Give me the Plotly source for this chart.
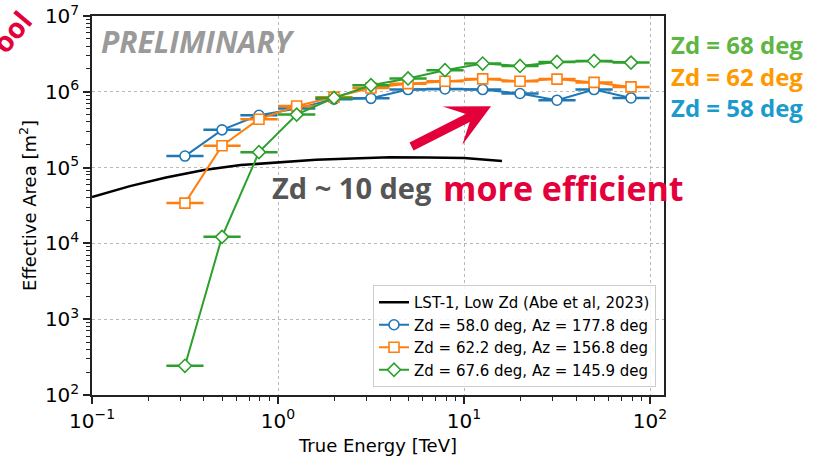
import plotly.graph_objects as go
import numpy as np

# ---------------- data ----------------
lst1_energy = [0.1, 0.16, 0.25, 0.4, 0.63, 1.0, 1.6, 2.5, 4.0, 6.3, 10.0, 16.0]
lst1_area = [4.1e4, 5.7e4, 7.4e4, 9.3e4, 1.08e5, 1.18e5, 1.27e5, 1.32e5, 1.37e5, 1.36e5, 1.34e5, 1.22e5]

energy = [0.316, 0.5, 0.79, 1.26, 2.0, 3.16, 5.0, 7.9, 12.6, 20.0, 31.6, 50.0, 79.0]
area_zd58 = [1.42e5, 3.15e5, 4.9e5, 6.0e5, 8.0e5, 8.2e5, 1.07e6, 1.09e6, 1.07e6, 9.5e5, 7.75e5, 1.07e6, 8.3e5]
area_zd62 = [3.4e4, 1.94e5, 4.35e5, 6.5e5, 8.5e5, 1.12e6, 1.28e6, 1.38e6, 1.48e6, 1.38e6, 1.47e6, 1.33e6, 1.16e6]
area_zd68 = [243, 1.22e4, 1.6e5, 5.0e5, 8.3e5, 1.22e6, 1.5e6, 1.93e6, 2.36e6, 2.19e6, 2.48e6, 2.55e6, 2.43e6]
bin_half_width_dex = 0.1

series_names = ["Zd = 58.0 deg, Az = 177.8 deg",
                "Zd = 62.2 deg, Az = 156.8 deg",
                "Zd = 67.6 deg, Az = 145.9 deg"]
series_colors = ["#1f77b4", "#ff7f0e", "#2ca02c"]
series_symbols = ["circle", "square", "diamond"]
series_values = [area_zd58, area_zd62, area_zd68]

x_tickvals = [0.1, 1, 10, 100]
x_ticktext = ["10<sup>−1</sup>", "10<sup>0</sup>", "10<sup>1</sup>", "10<sup>2</sup>"]
y_tickvals = [1e2, 1e3, 1e4, 1e5, 1e6, 1e7]
y_ticktext = ["10<sup>2</sup>", "10<sup>3</sup>", "10<sup>4</sup>", "10<sup>5</sup>", "10<sup>6</sup>", "10<sup>7</sup>"]

# ---------------- figure ----------------
E = np.array(energy)
err_plus = E * (10 ** bin_half_width_dex - 1)
err_minus = E * (1 - 10 ** (-bin_half_width_dex))

fig = go.Figure()
fig.add_trace(go.Scatter(x=lst1_energy, y=lst1_area, mode="lines",
                         line=dict(color="black", width=2.5),
                         name="LST-1, Low Zd (Abe et al, 2023)"))
for name, col, sym, vals in zip(series_names, series_colors, series_symbols, series_values):
    fig.add_trace(go.Scatter(
        x=energy, y=vals, mode="lines+markers", name=name,
        line=dict(color=col, width=2),
        marker=dict(symbol=sym, size=10, color="white",
                    line=dict(color=col, width=1.6)),
        error_x=dict(type="data", symmetric=False, array=err_plus, arrayminus=err_minus,
                     color=col, thickness=2.5, width=0),
    ))

minor_x = [k * 10.0 ** p for p in range(-1, 2) for k in range(2, 10)]
minor_y = [k * 10.0 ** p for p in range(2, 7) for k in range(2, 10)]

axis_common = dict(showline=True, linecolor="#222", linewidth=1.5, mirror=True,
                   ticks="outside", ticklen=7, tickwidth=1.5, tickcolor="#222",
                   showgrid=True, gridcolor="#b8b8b8", griddash="dot", gridwidth=1,
                   zeroline=False, automargin=False,
                   tickfont=dict(family="DejaVu Sans", size=20, color="black"))

fig.update_xaxes(type="log", range=[-1, 2.075], tickmode="array",
                 tickvals=x_tickvals, ticktext=x_ticktext,
                 minor=dict(tickmode="array", tickvals=minor_x, ticks="outside",
                            ticklen=4, tickwidth=1, tickcolor="#222", showgrid=False),
                 title=dict(text="True Energy [TeV]", font=dict(family="DejaVu Sans", size=18, color="black"),
                            standoff=8),
                 **axis_common)
fig.update_yaxes(type="log", range=[2, 7], tickmode="array",
                 tickvals=y_tickvals, ticktext=y_ticktext,
                 minor=dict(tickmode="array", tickvals=minor_y, ticks="outside",
                            ticklen=4, tickwidth=1, tickcolor="#222", showgrid=False),
                 title=dict(text="Effective Area [m<sup>2</sup>]", font=dict(family="DejaVu Sans", size=18, color="black"),
                            standoff=4),
                 **axis_common)

def px2paper(X, Y):
    return (X - 92) / 572.0, (395 - Y) / 379.0

annotations = []
x0, y0 = px2paper(99, 42)
annotations.append(dict(x=x0, y=y0, xref="paper", yref="paper", xanchor="left", yanchor="middle",
                        text="<b><i>PRELIMINARY</i></b>", showarrow=False,
                        font=dict(family="Open Sans", size=30, color="#9a9a9a")))
x0, y0 = px2paper(270, 187)
annotations.append(dict(x=x0, y=y0, xref="paper", yref="paper", xanchor="left", yanchor="middle",
                        text="<b>Zd ~ 10 deg</b>", showarrow=False,
                        font=dict(family="Open Sans", size=29, color="#555555")))
x0, y0 = px2paper(441, 188)
annotations.append(dict(x=x0, y=y0, xref="paper", yref="paper", xanchor="left", yanchor="middle",
                        text="<b>more efficient</b>", showarrow=False,
                        font=dict(family="Open Sans", size=34, color="#e4003b")))
for txt, col, yy in [("Zd = 68 deg", "#5db543", 45), ("Zd = 62 deg", "#ff9900", 76), ("Zd = 58 deg", "#1a9bcc", 108)]:
    x0, y0 = px2paper(669, yy)
    annotations.append(dict(x=x0, y=y0, xref="paper", yref="paper", xanchor="left", yanchor="middle",
                            text="<b>" + txt + "</b>", showarrow=False,
                            font=dict(family="Open Sans", size=24, color=col)))
x0, y0 = px2paper(11, 32)
annotations.append(dict(x=x0, y=y0, xref="paper", yref="paper", xanchor="center", yanchor="middle",
                        text="<b>ool</b>", showarrow=False, textangle=-50,
                        font=dict(family="Open Sans", size=28, color="#e4003b")))
# arrow
annotations.append(dict(x=-1 + (491 - 92) / 186.0, y=7 - (106 - 15.7) / 75.9,
                        xref="x", yref="y", ax=-81, ay=41, text="", showarrow=True,
                        arrowhead=3, arrowwidth=9, arrowsize=0.8, arrowcolor="#e4003b"))

fig.update_layout(
    width=821, height=458,
    margin=dict(l=92, r=157, t=16, b=63),
    plot_bgcolor="white", paper_bgcolor="white",
    annotations=annotations,
    legend=dict(x=(656 - 92) / 572.0, y=(395 - 387) / 379.0, xanchor="right", yanchor="bottom",
                bgcolor="rgba(255,255,255,0.85)", bordercolor="#cccccc", borderwidth=1,
                font=dict(family="DejaVu Sans", size=15, color="black"),
                itemwidth=30, tracegroupgap=0),
    showlegend=True,
)

fig.write_html("out.html")
